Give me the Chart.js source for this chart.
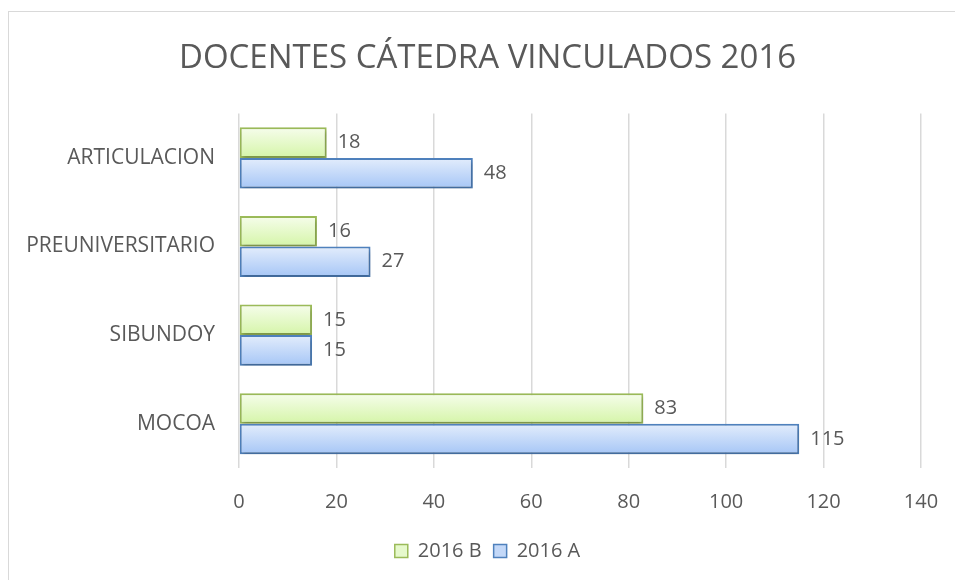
<!DOCTYPE html>
<html lang="es">
<head>
  <meta charset="UTF-8" />
  <title>Docentes cátedra vinculados 2016</title>
  <script src="https://cdn.jsdelivr.net/npm/chart.js"></script>
  <style>
    html, body {
      margin: 0;
      padding: 0;
      background: #fff;
      overflow: hidden;
    }
    #frame {
      position: absolute;
      left: 8px;
      top: 11px;
      width: 1000px;
      height: 700px;
      border: 1.5px solid #d9d9d9;
    }
    #wrap {
      position: absolute;
      left: 0;
      top: 0;
      width: 955px;
      height: 580px;
    }
  </style>
</head>
<body>
  <div id="frame"></div>
  <div id="wrap"><canvas id="chart"></canvas></div>

  <script>
    const categories = ['ARTICULACION', 'PREUNIVERSITARIO', 'SIBUNDOY', 'MOCOA'];
    const valuesB = [18, 16, 15, 83];   // 2016 B
    const valuesA = [48, 27, 15, 115];  // 2016 A

    const CAT_PCT = 0.69;
    const FONT = '"Open Sans", Lato, sans-serif';

    // vertical gradient for each bar, like the office chart fill
    function barGradient(top, bottom, dsIndex) {
      return function (ctx) {
        const chart = ctx.chart;
        const y = chart.scales.y;
        if (!chart.chartArea || !y || ctx.dataIndex === undefined) return top;
        const center = y.getPixelForValue(ctx.dataIndex);
        const step = Math.abs(y.getPixelForValue(1) - y.getPixelForValue(0)) || 88;
        const h = step * CAT_PCT / 2;
        const y0 = center - h + dsIndex * h;
        const g = chart.ctx.createLinearGradient(0, y0, 0, y0 + h);
        g.addColorStop(0, top);
        g.addColorStop(1, bottom);
        return g;
      };
    }

    const valueLabels = {
      id: 'valueLabels',
      afterDatasetsDraw(chart) {
        const ctx = chart.ctx;
        ctx.save();
        ctx.font = '20px ' + FONT;
        ctx.fillStyle = '#595959';
        ctx.textAlign = 'left';
        ctx.textBaseline = 'middle';
        chart.data.datasets.forEach((ds, i) => {
          chart.getDatasetMeta(i).data.forEach((bar, j) => {
            ctx.fillText(String(ds.data[j]), bar.x + 11, bar.y);
          });
        });
        ctx.restore();
      }
    };

    const barShadow = {
      id: 'barShadow',
      beforeDatasetDraw(chart) {
        const ctx = chart.ctx;
        ctx.save();
        ctx.shadowColor = 'rgba(0,0,0,0.22)';
        ctx.shadowBlur = 4;
        ctx.shadowOffsetX = 1;
        ctx.shadowOffsetY = 3;
      },
      afterDatasetDraw(chart) {
        chart.ctx.restore();
      }
    };

    new Chart(document.getElementById('chart'), {
      type: 'bar',
      data: {
        labels: categories,
        datasets: [
          {
            label: '2016 B',
            data: valuesB,
            backgroundColor: barGradient('#f6fdec', '#d5f5a8', 0),
            borderColor: '#9bbb59',
            borderWidth: 2,
            borderSkipped: false,
            categoryPercentage: CAT_PCT,
            barPercentage: 1
          },
          {
            label: '2016 A',
            data: valuesA,
            backgroundColor: barGradient('#e3edfc', '#a6c6f6', 1),
            borderColor: '#4f81bd',
            borderWidth: 2,
            borderSkipped: false,
            categoryPercentage: CAT_PCT,
            barPercentage: 1
          }
        ]
      },
      options: {
        indexAxis: 'y',
        responsive: true,
        maintainAspectRatio: false,
        animation: false,
        layout: {
          padding: { left: 20, right: 0, top: 0, bottom: 9 }
        },
        plugins: {
          title: {
            display: true,
            text: 'DOCENTES CÁTEDRA VINCULADOS 2016',
            color: '#595959',
            font: { family: FONT, size: 33, weight: 'normal' },
            padding: { top: 39, bottom: 35 }
          },
          legend: {
            position: 'bottom',
            labels: {
              color: '#595959',
              font: { family: FONT, size: 20 },
              boxWidth: 13,
              boxHeight: 13,
              padding: 12,
              generateLabels(chart) {
                return chart.data.datasets.map((ds, i) => ({
                  text: ds.label,
                  fillStyle: i === 0 ? '#e6f9cc' : '#c3d8f8',
                  strokeStyle: ds.borderColor,
                  lineWidth: 1.5,
                  fontColor: '#595959',
                  datasetIndex: i,
                  hidden: false
                }));
              }
            }
          },
          tooltip: { enabled: false }
        },
        scales: {
          x: {
            min: 0,
            max: 140,
            ticks: {
              stepSize: 20,
              color: '#595959',
              padding: 22,
              font: { family: FONT, size: 20 }
            },
            grid: { color: '#d9d9d9', lineWidth: 1.5, drawTicks: false },
            border: { display: false },
            afterFit(scale) {
              scale.height = 61;
              scale.paddingLeft = 0;
              scale.paddingRight = 34;
            }
          },
          y: {
            ticks: {
              color: '#595959',
              padding: 24,
              font: { family: FONT, size: 21 }
            },
            grid: { display: false, drawTicks: false },
            border: { display: false },
            afterFit(scale) { scale.width = 219; }
          }
        }
      },
      plugins: [barShadow, valueLabels]
    });
  </script>
</body>
</html>
